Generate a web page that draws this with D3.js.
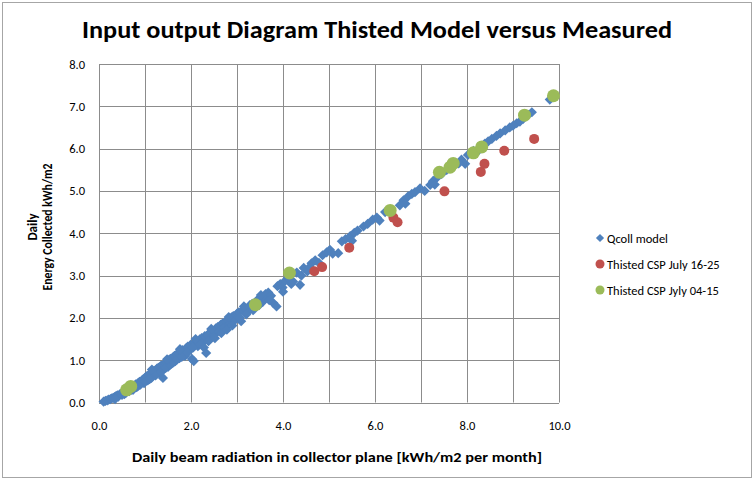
<!DOCTYPE html>
<html><head><meta charset="utf-8">
<script src="https://cdn.jsdelivr.net/npm/d3@7"></script>
<style>body{margin:0;background:#fff}svg{display:block}</style>
</head><body>
<svg id="c" width="754" height="480"></svg>
<script>
const title = "Input output Diagram Thisted Model versus Measured";
const xTitle = "Daily beam radiation in collector plane [kWh/m2 per month]";
const yTitleLines = ["Daily", "Energy Collected kWh/m2"];
const seriesNames = ["Qcoll model", "Thisted CSP July 16-25", "Thisted CSP Jyly 04-15"];
const xTicks = [0, 2, 4, 6, 8, 10];
const yTicks = [0, 1, 2, 3, 4, 5, 6, 7, 8];

const qcollModel = [
[0.10,0.02],[0.14,0.04],[0.18,0.05],[0.21,0.07],[0.25,0.08],[0.28,0.10],[0.31,0.11],[0.34,0.13],[0.37,0.15],[0.40,0.17],
[0.42,0.14],[0.45,0.19],[0.48,0.21],[0.50,0.18],[0.53,0.24],[0.56,0.26],[0.58,0.22],[0.61,0.29],[0.64,0.31],[0.66,0.27],
[0.69,0.35],[0.72,0.37],[0.74,0.30],[0.77,0.40],[0.80,0.43],[0.82,0.36],[0.85,0.46],[0.88,0.49],[0.90,0.42],[0.93,0.52],
[0.96,0.55],[0.98,0.46],[1.01,0.59],[1.03,0.62],[1.06,0.52],[1.09,0.66],[1.12,0.69],[1.14,0.58],[1.17,0.72],[1.20,0.75],
[1.23,0.64],[1.26,0.80],[1.29,0.82],[1.31,0.70],[1.34,0.86],[1.37,0.88],[1.39,0.58],[1.41,0.78],[1.44,0.93],[1.47,0.96],
[1.50,0.84],[1.52,1.00],[1.55,1.03],[1.58,0.92],[1.61,1.07],[1.64,1.10],[1.66,0.98],[1.69,1.13],[1.72,1.17],[1.75,1.05],
[1.78,1.21],[1.81,1.24],[1.84,1.14],[1.87,1.10],[1.90,1.29],[1.93,1.32],[1.96,1.22],[1.99,1.36],[2.02,1.03],[2.06,0.98],
[2.08,1.42],[2.12,1.45],[2.15,1.33],[2.19,1.49],[2.23,1.52],[2.26,1.42],[2.30,1.57],[2.33,1.17],[2.36,1.60],[2.40,1.50],
[2.43,1.66],[2.47,1.70],[2.50,1.60],[2.54,1.75],[2.58,1.78],[2.61,1.68],[2.65,1.84],[2.69,1.87],[2.72,1.78],[2.76,1.92],
[2.80,1.95],[2.84,1.85],[2.88,2.01],[2.92,2.04],[2.96,1.95],[3.00,2.10],[3.04,2.13],[3.09,1.92],[3.13,2.19],[3.18,2.22],
[3.23,2.14],[3.28,2.30],[3.33,2.33],[3.38,2.26],[3.44,2.42],[3.50,2.46],[3.56,2.38],[3.62,2.56],[3.68,2.60],[3.74,2.52],
[3.79,2.35],[3.86,2.27],[3.88,2.75],[3.94,2.80],[3.99,2.72],[4.05,2.88],[4.12,2.94],[4.22,2.86],[4.30,3.07],[4.37,2.78],
[4.45,3.18],[4.53,3.10],[4.62,3.29],[4.70,3.36],[4.78,3.30],[4.86,3.48],[4.95,3.55],[5.02,3.61],[5.20,3.53],[5.28,3.81],
[5.36,3.86],[5.46,3.93],[5.55,4.01],[5.62,4.06],[5.75,4.16],[5.84,4.22],[5.95,4.32],[6.04,4.37],[6.22,4.50],[6.54,4.66],
[6.62,4.78],[6.72,4.87],[6.80,4.93],[6.87,4.97],[6.98,5.06],[7.20,5.14],[7.26,5.23],[7.35,5.32],[7.45,5.40],[7.56,5.50],
[7.66,5.57],[7.75,5.66],[7.88,5.74],[7.96,5.64],[8.02,5.85],[8.14,5.95],[8.28,6.02],[8.39,6.12],[8.46,6.17],[8.54,6.23],
[8.64,6.30],[8.72,6.36],[8.83,6.43],[8.93,6.50],[9.00,6.54],[9.08,6.60],[9.15,6.64],[9.22,6.70],[9.33,6.80],[9.41,6.86],
[9.80,7.16],[9.85,7.21],
[0.35,0.08],[0.55,0.20],[0.70,0.30],[0.86,0.40],[1.00,0.50],[1.10,0.55],[1.25,0.68],[1.35,0.74],[1.45,0.82],[1.55,0.90],
[1.62,0.95],[1.70,1.02],[1.80,1.08],[1.92,1.18],[2.05,1.30],[2.18,1.38],[2.28,1.30],[2.38,1.45],[2.52,1.52],[2.66,1.64],
[2.78,1.72],[2.90,1.82],[3.06,2.00],[3.20,2.08],[3.35,2.18],[3.48,2.30],[3.60,2.45],[3.70,2.42],[4.00,2.62],[4.18,2.80],
[4.40,3.00],[4.58,3.20],[5.08,3.52],[5.50,3.82],[6.10,4.30],[6.66,4.70],[7.08,5.00],[7.30,5.15],[7.82,5.65],[8.20,5.90],
[1.15,0.78],[1.48,1.02],[1.76,1.26],[2.10,1.50],[2.44,1.74],[2.82,2.02],[3.15,2.27],[3.52,2.54]
];
const cspJuly16to25 = [
[4.68,3.10],[4.85,3.20],[5.44,3.66],[6.40,4.37],[6.49,4.26],[7.51,4.99],[8.30,5.45],[8.38,5.64],[8.81,5.95],[9.46,6.23]
];
const cspJuly04to15 = [
[0.60,0.30],[0.69,0.38],[3.40,2.31],[4.14,3.06],[6.33,4.54],[7.40,5.44],[7.63,5.56],[7.70,5.65],[8.14,5.90],[8.32,6.04],[9.25,6.79],[9.88,7.25]
];
const colors = ["#4F81BD", "#C0504D", "#9BBB59"];

const svg = d3.select("#c");
const font = "Carlito, Calibri, 'Open Sans', 'Liberation Sans', sans-serif";

svg.append("rect").attr("x", 2.5).attr("y", 2.5).attr("width", 749).attr("height", 475)
  .attr("fill", "#fff").attr("stroke", "#a6a6a6");

const x = d3.scaleLinear().domain([0, 10]).range([99, 559]);
const y = d3.scaleLinear().domain([0, 8]).range([402.5, 64]);

// gridlines
const g = svg.append("g");
g.selectAll(".vg").data(d3.range(0, 11)).join("line")
  .attr("x1", d => Math.round(x(d)) + 0.5).attr("x2", d => Math.round(x(d)) + 0.5)
  .attr("y1", y(8)).attr("y2", y(0)).attr("stroke", "#8c8c8c").attr("stroke-width", 1);
g.selectAll(".hg").data(d3.range(0, 9)).join("line")
  .attr("y1", d => Math.round(y(d)) + 0.5).attr("y2", d => Math.round(y(d)) + 0.5)
  .attr("x1", x(0)).attr("x2", x(10)).attr("stroke", "#8c8c8c").attr("stroke-width", 1);

// axes
const xAxis = d3.axisBottom(x).tickValues(xTicks).tickFormat(d3.format(".1f")).tickSize(0).tickPadding(19);
const yAxis = d3.axisLeft(y).tickValues(yTicks).tickFormat(d3.format(".1f")).tickSize(0).tickPadding(14);
const ax = svg.append("g").attr("transform", `translate(0,${y(0)})`).call(xAxis);
const ay = svg.append("g").attr("transform", `translate(${x(0)},0)`).call(yAxis);
[ax, ay].forEach(a => {
  a.select(".domain").remove();
  a.selectAll("text").attr("font-family", font).attr("font-size", 12.5).attr("fill", "#000");
});

// series
const sym = d3.symbol().type(d3.symbolSquare).size(52);
svg.append("g").selectAll("path").data(qcollModel).join("path")
  .attr("d", sym).attr("fill", colors[0])
  .attr("transform", d => `translate(${x(d[0])},${y(d[1])}) rotate(45)`);
svg.append("g").selectAll("circle").data(cspJuly16to25).join("circle")
  .attr("cx", d => x(d[0])).attr("cy", d => y(d[1])).attr("r", 5).attr("fill", colors[1]);
svg.append("g").selectAll("circle").data(cspJuly04to15).join("circle")
  .attr("cx", d => x(d[0])).attr("cy", d => y(d[1])).attr("r", 6.5).attr("fill", colors[2]);

// titles
svg.append("text").attr("x", 377).attr("y", 38).attr("text-anchor", "middle")
  .attr("font-family", font).attr("font-weight", "bold").attr("font-size", 25)
  .attr("textLength", 590).attr("lengthAdjust", "spacingAndGlyphs").text(title);
svg.append("text").attr("x", 337).attr("y", 462).attr("text-anchor", "middle")
  .attr("font-family", font).attr("font-weight", "bold").attr("font-size", 13.5)
  .attr("textLength", 410).attr("lengthAdjust", "spacingAndGlyphs").text(xTitle);
const yt = svg.append("text").attr("transform", "translate(0,227) rotate(-90)")
  .attr("text-anchor", "middle").attr("font-family", font).attr("font-weight", "bold").attr("font-size", 13);
yt.append("tspan").attr("x", 0).attr("y", 37).text(yTitleLines[0]);
yt.append("tspan").attr("x", 0).attr("y", 52).attr("textLength", 127).attr("lengthAdjust", "spacingAndGlyphs").text(yTitleLines[1]);

// legend
const leg = svg.append("g");
const ly = [238, 264, 290];
leg.append("path").attr("d", d3.symbol().type(d3.symbolSquare).size(34)).attr("fill", colors[0])
  .attr("transform", `translate(600,${ly[0]}) rotate(45)`);
leg.append("circle").attr("cx", 600).attr("cy", ly[1]).attr("r", 4.5).attr("fill", colors[1]);
leg.append("circle").attr("cx", 600).attr("cy", ly[2]).attr("r", 4.5).attr("fill", colors[2]);
seriesNames.forEach((n, i) => {
  leg.append("text").attr("x", 607).attr("y", ly[i] + 4.5).attr("font-family", font).attr("font-size", 12.5)
    .attr("fill", "#000").text(n);
});
</script>
</body></html>
